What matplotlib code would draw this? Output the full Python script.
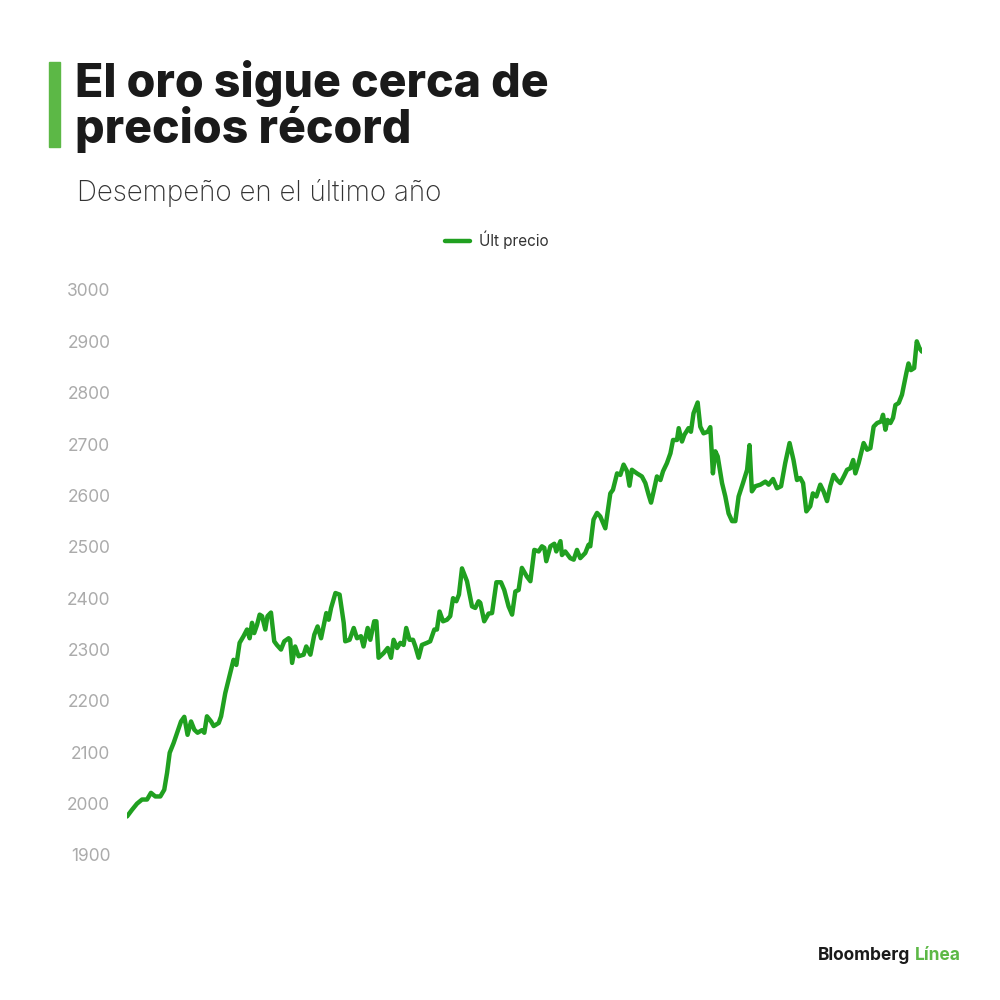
import matplotlib
matplotlib.use("Agg")
import matplotlib.pyplot as plt
from matplotlib.patches import Rectangle

# Data: day offset within the last year, gold price (USD/oz)
days = [0, 2.3, 4.6, 6.9, 9.2, 11, 13, 15.3, 17.1, 18.4, 19.6, 21.4, 23, 24.8, 26.3, 27.8,
        29.4, 30.9, 32.4, 34.4, 35.5, 36.7, 38.6, 39.8, 42.1, 43.2, 45.1, 47.4, 48.9, 50.2,
        51.7, 53.5, 55.1, 56.3, 57.4, 58.4, 59.7, 60.9, 62, 63.5, 64.5, 66.1, 67.6, 68.8,
        70.7, 72.2, 74.2, 74.9, 75.8, 77.2, 78.8, 81.1, 82.3, 84.2, 86, 87.5, 89.1, 91.5,
        92.6, 93.7, 95.7, 97.6, 99.5, 100.2, 102.2, 104.1, 105.6, 107.4, 108.6, 110.5,
        111.7, 113.5, 114.5, 115.5, 117.8, 119.7, 121.2, 122.4, 124, 125.5, 127, 128.2,
        129.7, 131.3, 132.4, 133.9, 135.4, 137.7, 139.2, 141.1, 142.3, 143.5, 145.1, 146.9,
        148.4, 149.7, 151.2, 152.4, 153.8, 156.1, 158.4, 159.9, 161.4, 162.2, 164, 166,
        167.6, 169.6, 171.7, 173.2, 175.2, 176.8, 178.3, 179.8, 181.3, 183.6, 185.2, 187,
        189, 190.5, 191.6, 192.5, 194.4, 196.2, 197.1, 199, 199.7, 201.2, 203.5, 205.1,
        206.6, 208.1, 210.4, 211.9, 212.7, 214.2, 215.8, 217.3, 219.6, 221.9, 223.1, 225,
        226.5, 228, 229.6, 230.7, 231.8, 234.1, 236.4, 238, 239.5, 240.6, 241.8, 243.3,
        244.9, 246.1, 247.9, 249.5, 250.7, 252.5, 253.3, 254.8, 255.9, 257.8, 258.9, 260.1,
        262, 263.2, 264.7, 266.6, 267.8, 269, 270.1, 271.2, 273.2, 274.7, 276.2, 277.8,
        279.3, 280.8, 282.8, 284.7, 285.8, 286.9, 288.5, 290.8, 293.1, 294.6, 296.6, 298.4,
        300.3, 302.2, 304.2, 306, 307.6, 309.1, 310.4, 311.9, 313.7, 314.9, 316.5, 318.3,
        319.8, 321.4, 322.9, 324.4, 326, 327.5, 329.1, 330.6, 332.1, 333.4, 334.4, 335.9,
        338.2, 339.8, 341.3, 342.8, 344.4, 346.2, 347.1, 348.2, 349.2, 350.5, 351.7, 352.8,
        354.3, 355.8, 357.8, 358.8, 359.9, 361.4, 362.6, 363.8, 365]
prices = [1975, 1988, 2000, 2008, 2008, 2021, 2014, 2014, 2027, 2060, 2099, 2118, 2138, 2160,
          2169, 2134, 2160, 2144, 2138, 2143, 2138, 2170, 2160, 2151, 2157, 2170, 2215, 2254,
          2280, 2270, 2313, 2326, 2339, 2322, 2352, 2332, 2348, 2368, 2365, 2339, 2365, 2372,
          2316, 2309, 2300, 2316, 2322, 2319, 2274, 2306, 2287, 2290, 2306, 2290, 2329, 2345,
          2322, 2371, 2358, 2381, 2410, 2407, 2352, 2316, 2319, 2342, 2322, 2326, 2306, 2342,
          2319, 2355, 2355, 2284, 2293, 2303, 2284, 2319, 2303, 2313, 2309, 2342, 2319, 2319,
          2306, 2284, 2309, 2313, 2316, 2339, 2339, 2374, 2355, 2358, 2365, 2400, 2394, 2407,
          2458, 2433, 2384, 2381, 2394, 2391, 2355, 2370, 2371, 2431, 2431, 2416, 2384, 2368,
          2413, 2416, 2459, 2442, 2433, 2494, 2491, 2501, 2498, 2472, 2501, 2506, 2491, 2511,
          2484, 2491, 2478, 2475, 2494, 2478, 2488, 2504, 2501, 2553, 2566, 2559, 2536, 2604,
          2611, 2643, 2640, 2660, 2647, 2619, 2650, 2643, 2637, 2624, 2601, 2586, 2608, 2637,
          2630, 2647, 2663, 2682, 2708, 2708, 2731, 2705, 2718, 2731, 2724, 2760, 2781, 2734,
          2721, 2724, 2733, 2643, 2686, 2676, 2624, 2598, 2565, 2550, 2550, 2598, 2624, 2650,
          2698, 2608, 2618, 2621, 2627, 2621, 2632, 2614, 2618, 2663, 2702, 2669, 2630, 2634,
          2624, 2569, 2579, 2604, 2598, 2621, 2608, 2589, 2618, 2640, 2630, 2624, 2637, 2650,
          2653, 2669, 2643, 2663, 2702, 2689, 2692, 2734, 2741, 2744, 2757, 2728, 2747, 2741,
          2751, 2776, 2780, 2796, 2838, 2857, 2844, 2848, 2900, 2887, 2880]

y_ticks = [1900, 2000, 2100, 2200, 2300, 2400, 2500, 2600, 2700, 2800, 2900, 3000]

title_lines = ["El oro sigue cerca de", "precios récord"]
subtitle = "Desempeño en el último año"
series_name = "Últ precio"

LINE = "#20a020"
ACCENT = "#5cb846"
FONT = ["Inter", "DejaVu Sans"]

fig = plt.figure(figsize=(10, 10), dpi=100)
fig.patch.set_facecolor("white")

ax = fig.add_axes([0.127, 0.145, 0.795, 0.565])
ax.plot(days, prices, color=LINE, lw=3.2, solid_joinstyle="round", solid_capstyle="round",
        label=series_name)
ax.set_xlim(0, 365)
ax.set_ylim(1900, 3000)
ax.set_yticks(y_ticks)
ax.set_yticklabels([str(t) for t in y_ticks], family=FONT, fontsize=12.5, color="#ababab")
ax.set_xticks([])
ax.tick_params(axis="y", length=0, pad=12)
for s in ax.spines.values():
    s.set_visible(False)
ax.set_facecolor("white")

# Title block
fig.patches.append(Rectangle((0.049, 0.853), 0.011, 0.085, transform=fig.transFigure,
                             color=ACCENT, zorder=5))
fig.text(0.075, 0.903, title_lines[0], family=FONT, fontsize=33.5, fontweight="heavy",
         color="#1a1a1a", va="baseline", ha="left")
fig.text(0.075, 0.857, title_lines[1], family=FONT, fontsize=33.5, fontweight="heavy",
         color="#1a1a1a", va="baseline", ha="left")
fig.text(0.077, 0.799, subtitle, family=FONT, fontsize=20, fontweight="light", color="#333333",
         va="baseline", ha="left")

# Legend
leg = fig.legend(loc="center", bbox_to_anchor=(0.497, 0.760), frameon=False,
                 handlelength=1.6, handletextpad=0.6,
                 prop={"family": FONT, "size": 11})
for t in leg.get_texts():
    t.set_color("#333333")

# Logo
t1 = fig.text(0.818, 0.045, "Bloomberg", family=FONT, fontsize=12.5, fontweight="bold",
              color="#1a1a1a", ha="left", va="center")
fig.canvas.draw()
bb = t1.get_window_extent()
x_end = fig.transFigure.inverted().transform((bb.x1, bb.y0))[0]
fig.text(x_end + 0.005, 0.045, "Línea", family=FONT, fontsize=12.5, fontweight="bold",
         color=ACCENT, ha="left", va="center")

fig.savefig("out.png", dpi=100, facecolor="white")
